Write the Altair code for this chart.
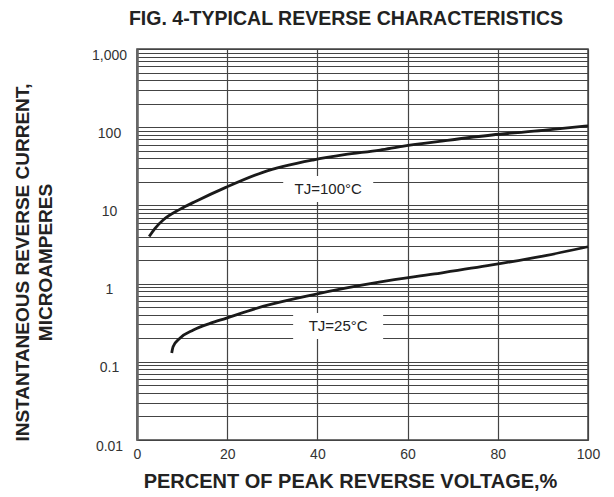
import altair as alt
import pandas as pd

title_text = "FIG. 4-TYPICAL REVERSE CHARACTERISTICS"

# TJ = 100 °C curve
x_100 = [2.7, 4.0, 5.8, 9.5, 13.2, 19.7, 27.9, 39.0, 46.0, 53.9, 58.8, 68.0, 78.7, 90.0, 100.0]
y_100 = [4.0, 5.1, 6.5, 8.9, 11.4, 17.0, 26.5, 38.0, 44.5, 51.0, 57.0, 67.0, 79.5, 91.0, 104.0]
# TJ = 25 °C curve
x_25 = [7.7, 8.0, 9.5, 12.5, 16.2, 19.7, 27.9, 39.0, 54.0, 66.0, 78.7, 90.0, 100.0]
y_25 = [0.13, 0.156, 0.20, 0.255, 0.31, 0.36, 0.51, 0.72, 1.05, 1.33, 1.73, 2.25, 2.96]

label_text = ["TJ=100°C", "TJ=25°C"]
label_x = [42.4, 44.6]
label_y = [16.2, 0.287]

x_ticks = [0, 20, 40, 60, 80, 100]
y_grid = [round(m * 10 ** e, 6) for e in range(-2, 3) for m in range(1, 10)] + [1000]

curves = pd.DataFrame({
    "x": x_100 + x_25,
    "y": y_100 + y_25,
    "series": ["100"] * len(x_100) + ["25"] * len(x_25),
})
labels = pd.DataFrame({"x": label_x, "y": label_y, "t": label_text})
head = pd.DataFrame({"t": [title_text]})

xscale = alt.Scale(domain=[0, 100], nice=False, zero=False)
yscale = alt.Scale(type="log", domain=[0.01, 1000], nice=False)

x_axis = alt.Axis(
    values=x_ticks, grid=True, ticks=False, domain=False, labelFlush=False,
    labelPadding=7, labelFontSize=14, labelColor="#333", labelFont="Liberation Sans",
    gridColor="#444", gridWidth=1.2, gridOpacity=1,
    title="PERCENT OF PEAK REVERSE VOLTAGE,%", titleFontSize=20, titleFontWeight="bold",
    titleColor="#222", titleFont="Liberation Sans", titleX=213, titleY=47,
    titleAlign="center", titleBaseline="alphabetic",
)
y_axis = alt.Axis(
    values=y_grid, grid=True, ticks=False, domain=True, domainColor="#666", domainWidth=2.5,
    labelExpr="indexof([0.01, 0.1, 1, 10, 100, 1000], datum.value) >= 0 ? format(datum.value, ',') : ''",
    labelOverlap=False, labelAlign="center", labelBaseline="middle", labelPadding=28,
    labelOffset=6, labelFontSize=14, labelColor="#333", labelFont="Liberation Sans",
    gridColor="#444", gridWidth=1.2, gridOpacity=1,
    title=["INSTANTANEOUS REVERSE CURRENT,", "MICROAMPERES"], titleFontSize=19,
    titleFontWeight="bold", titleColor="#222", titleFont="Liberation Sans",
    titleAngle=270, titleX=-115, titleY=213, titleAlign="center",
    titleBaseline="middle", titleLineHeight=23,
)

x_enc = alt.X("x:Q", scale=xscale, axis=x_axis)
y_enc = alt.Y("y:Q", scale=yscale, axis=y_axis)

lines = alt.Chart(curves).mark_line(
    color="#1a1a1a", strokeWidth=2.8, interpolate="monotone"
).encode(x=x_enc, y=y_enc, detail="series:N")

box = alt.Chart(labels).mark_point(
    shape="M-1,-0.29L1,-0.29L1,0.29L-1,0.29Z", size=8100, filled=True,
    fill="white", opacity=1, strokeWidth=0,
).encode(x=x_enc, y=y_enc)

txt = alt.Chart(labels).mark_text(
    fontSize=15, color="#222", font="Liberation Sans"
).encode(x=x_enc, y=y_enc, text="t:N")

heading = alt.Chart(head).mark_text(
    fontSize=19.5, fontWeight="bold", color="#222", font="Liberation Sans",
    align="center", baseline="alphabetic",
).encode(x=alt.value(209), y=alt.value(-24), text="t:N")

chart = alt.layer(lines, box, txt, heading).properties(
    width=451, height=391,
    padding={"left": 129, "top": 41, "right": 18, "bottom": 52},
    autosize=alt.AutoSizeParams(type="none"),
).configure_view(stroke="#444", strokeWidth=1.5)

chart.save("out.html", embed_options={"renderer": "svg", "actions": False})
